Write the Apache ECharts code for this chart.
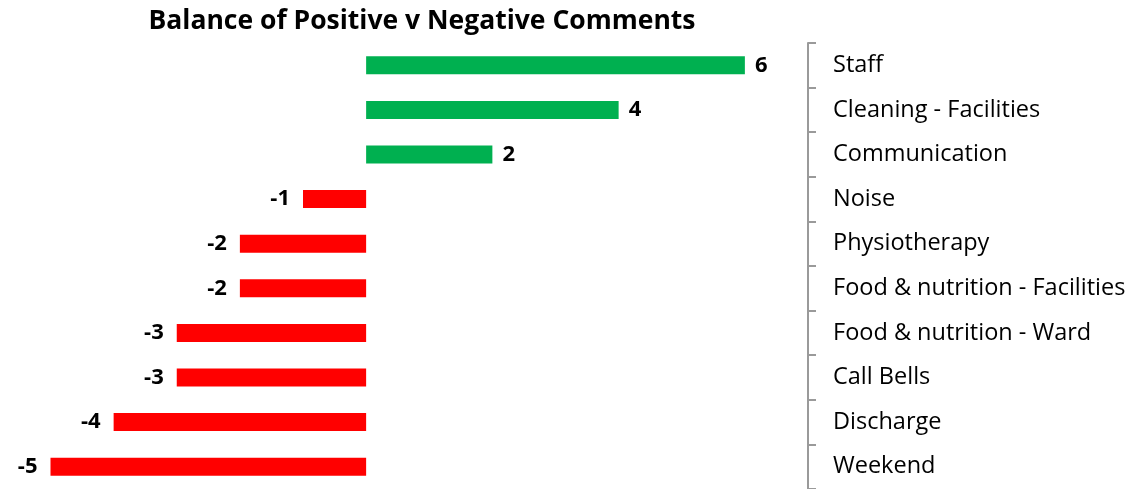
<!DOCTYPE html>
<html>
<head>
<meta charset="UTF-8">
<title></title>
<style>
  html, body { margin: 0; padding: 0; background: #fff; }
</style>
</head>
<body>
<div id="balance_bar" style="width:1131px;height:489px;"></div>

<script src="https://cdn.jsdelivr.net/npm/echarts@6/dist/echarts.min.js"></script>
<script>
var categories = ['Staff', 'Cleaning - Facilities', 'Communication', 'Noise', 'Physiotherapy',
  'Food & nutrition - Facilities', 'Food & nutrition - Ward', 'Call Bells', 'Discharge', 'Weekend'];
var balance = [6, 4, 2, -1, -2, -2, -3, -3, -4, -5];

var myChart = echarts.init(document.getElementById('balance_bar'));
myChart.setOption({
  animation: false,
  title: {
    text: 'Balance of Positive v Negative Comments',
    left: 417,
    top: 3,
    textAlign: 'center',
    textStyle: { fontFamily: 'Open Sans', fontWeight: 'bold', fontSize: 26.5, color: '#000' }
  },
  grid: { left: 0, right: 323, top: 43, bottom: 0 },
  xAxis: {
    type: 'value',
    min: -5.8,
    max: 7,
    show: false
  },
  yAxis: {
    type: 'category',
    position: 'right',
    inverse: true,
    data: categories,
    axisLine: { show: true, onZero: false, lineStyle: { color: '#9a9a9a', width: 2 } },
    axisTick: { show: true, length: 8, lineStyle: { color: '#9a9a9a', width: 2 } },
    axisLabel: { margin: 25, color: '#000', fontFamily: 'Open Sans', fontSize: 23.5, align: 'left', padding: [3, 0, 0, 0] }
  },
  series: [{
    type: 'bar',
    barWidth: 18,
    data: balance.map(function (v) {
      return {
        value: v,
        itemStyle: { color: v >= 0 ? '#00b050' : '#ff0000' },
        label: { position: v >= 0 ? 'right' : 'left', distance: v >= 0 ? 10 : 13 }
      };
    }),
    label: {
      show: true,
      color: '#000',
      fontFamily: 'Open Sans',
      fontWeight: 'bold',
      fontSize: 22
    }
  }]
});
</script>
</body>
</html>
